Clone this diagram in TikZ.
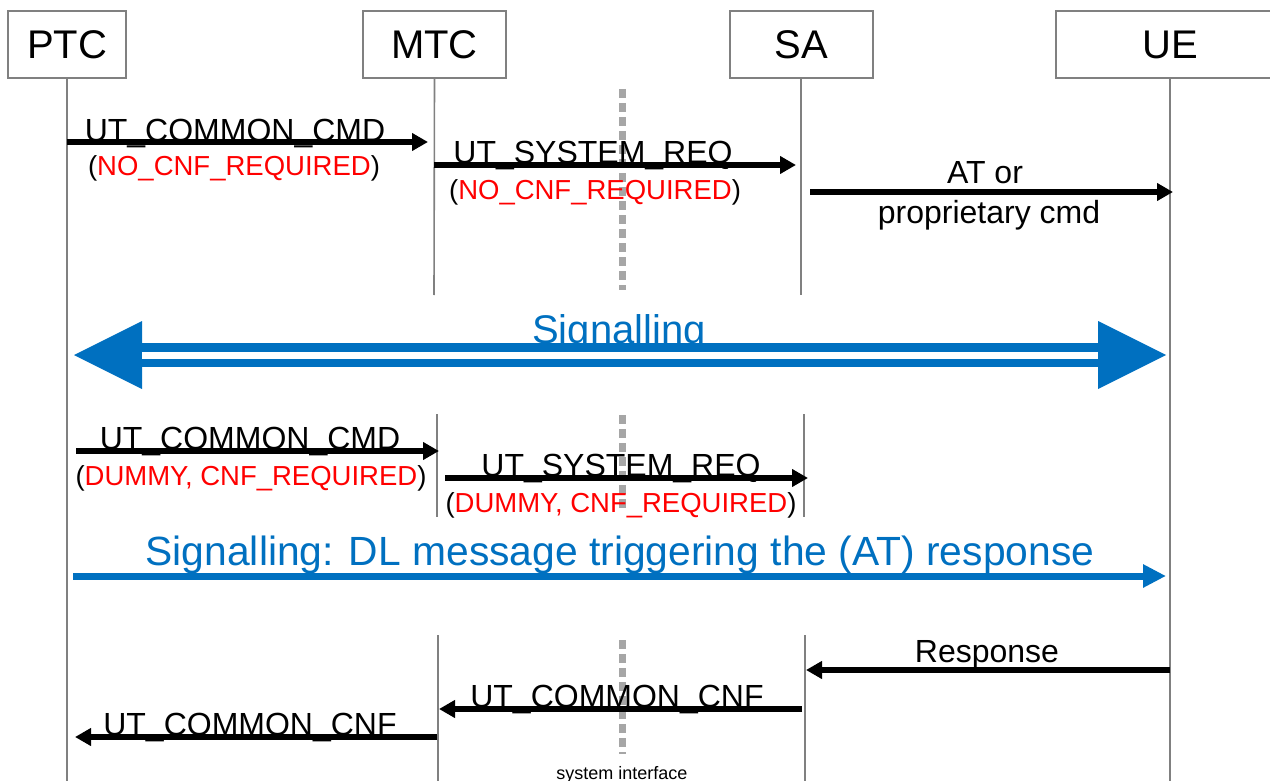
\documentclass[tikz,border=0pt]{standalone}
\usepackage{fontspec}
\setmainfont{Liberation Sans}
\usepackage{xcolor}
\usepackage{tikz}
\usetikzlibrary{positioning,arrows.meta,calc}
\definecolor{cazul}{HTML}{0070C0}
\definecolor{crojo}{HTML}{FF0000}
\definecolor{cgris}{HTML}{808080}
\definecolor{cpunto}{HTML}{A6A6A6}
\tikzset{
  caja/.style={rectangle, draw=cgris, line width=1pt, minimum height=33.5pt,
    inner sep=0pt, font=\fontsize{20}{24}\selectfont},
  vida/.style={draw=cgris, line width=0.8pt},
  interfaz/.style={draw=cpunto, line width=3.5pt, dash pattern=on 4.5pt off 2.5pt},
  flecha/.style={-{Triangle[length=8pt,width=8.5pt]}, line width=3pt, draw=black},
  flechaz/.style={-{Triangle[length=11.5pt,width=11pt]}, line width=3.5pt, draw=cazul},
  doble/.style={{Triangle[length=34pt,width=34pt,line width=0pt]}-{Triangle[length=34pt,width=34pt,line width=0pt]},
    line width=12pt, draw=cazul},
  etq/.style={anchor=base, inner sep=0pt, font=\fontsize{16}{19}\selectfont},
  param/.style={anchor=base, inner sep=0pt, font=\fontsize{13.75}{16}\selectfont},
  etqz/.style={anchor=base, inner sep=0pt, text=cazul, font=\fontsize{20}{24}\selectfont},
}
\newcommand{\rojo}[1]{(\textcolor{crojo}{#1})}

\begin{document}
\begin{tikzpicture}[x=0.5pt, y=-0.5pt]
  \useasboundingbox (0,0) rectangle (1270,781);
  % entidades
  \node[caja, minimum width=59pt] (ptc) at (67,44.5) {PTC};
  \node[caja, minimum width=71.5pt] (mtc) at (434.5,44.5) {MTC};
  \node[caja, minimum width=71.5pt] (sa) at (801,44.5) {SA};
  \node[caja, minimum width=114pt] (ue) at (1170,44.5) {UE};
  % lineas de vida
  \draw[vida] (ptc.south) -- (67,781);
  \draw[vida] (ue.south) -- (1170,781);
  \draw[vida] (mtc.south) -- (434,295);
  \draw[vida] (437,414) -- (437,517);
  \draw[vida] (438,635) -- (438,781);
  \draw[vida] (sa.south) -- (801,295);
  \draw[vida] (804,414) -- (804,517);
  \draw[vida] (805,635) -- (805,781);
  % system interface
  \draw[interfaz] (622,89) -- (622,290);
  \draw[interfaz] (622,415) -- (622,512);
  \draw[interfaz] (622,640) -- (622,754);
  \node[anchor=base, inner sep=0pt, font=\fontsize{9}{11}\selectfont] (si) at (622,779) {system interface};

  % primer bloque
  \coordinate (a1i) at (67,142);   \coordinate (a1f) at (428,142);
  \coordinate (a2i) at (434,165);  \coordinate (a2f) at (796,165);
  \coordinate (a3i) at (810,192);  \coordinate (a3f) at (1173,192);
  \node[etq] (l1) at (235,141) {UT\_COMMON\_CMD};
  \node[param] (p1) at (234,176) {\rojo{NO\_CNF\_REQUIRED}};
  \node[etq] (l2) at (593,163) {UT\_SYSTEM\_REQ};
  \node[param] (p2) at (595,199) {\rojo{NO\_CNF\_REQUIRED}};
  \node[etq] (l3) at (985,184) {AT or};
  \node[etq] (l3b) at (989,223) {proprietary cmd};
  \draw[flecha] (a1i) -- (a1f);
  \draw[flecha] (a2i) -- (a2f);
  \draw[flecha] (a3i) -- (a3f);

  % signalling
  \coordinate (s1i) at (74,355);   \coordinate (s1f) at (1166,355);
  \coordinate (s1a) at (142,355);  \coordinate (s1b) at (1098,355);
  \draw[doble] (s1i) -- (s1f);
  \draw[white, line width=3.5pt] (s1a) -- (s1b);
  \node[etqz] (sig) at (619,343) {Signalling};

  % segundo bloque
  \coordinate (b1i) at (76,451);   \coordinate (b1f) at (439,451);
  \coordinate (b2i) at (445,478);  \coordinate (b2f) at (808,478);
  \node[etq] (l5) at (250,449) {UT\_COMMON\_CMD};
  \node[param] (p5) at (251,485) {\rojo{DUMMY, CNF\_REQUIRED}};
  \node[etq] (l6) at (621,476) {UT\_SYSTEM\_REQ};
  \node[param] (p6) at (621,512) {\rojo{DUMMY, CNF\_REQUIRED}};
  \draw[flecha] (b1i) -- (b1f);
  \draw[flecha] (b2i) -- (b2f);

  \coordinate (s2i) at (73,576);   \coordinate (s2f) at (1166,576);
  \draw[flechaz] (s2i) -- (s2f);
  \node[etqz, font=\fontsize{20.4}{24}\selectfont] (sig2) at (620,565) {Signalling: DL message triggering the (AT) response};

  % respuesta
  \coordinate (c1i) at (1170,670); \coordinate (c1f) at (806,670);
  \coordinate (c2i) at (802,709);  \coordinate (c2f) at (439,709);
  \coordinate (c3i) at (437,737);  \coordinate (c3f) at (75,737);
  \node[etq] (l7) at (987,662) {Response};
  \node[etq] (l8) at (617,707) {UT\_COMMON\_CNF};
  \node[etq] (l9) at (250,735) {UT\_COMMON\_CNF};
  \draw[flecha] (c1i) -- (c1f);
  \draw[flecha] (c2i) -- (c2f);
  \draw[flecha] (c3i) -- (c3f);
\end{tikzpicture}
\end{document}
